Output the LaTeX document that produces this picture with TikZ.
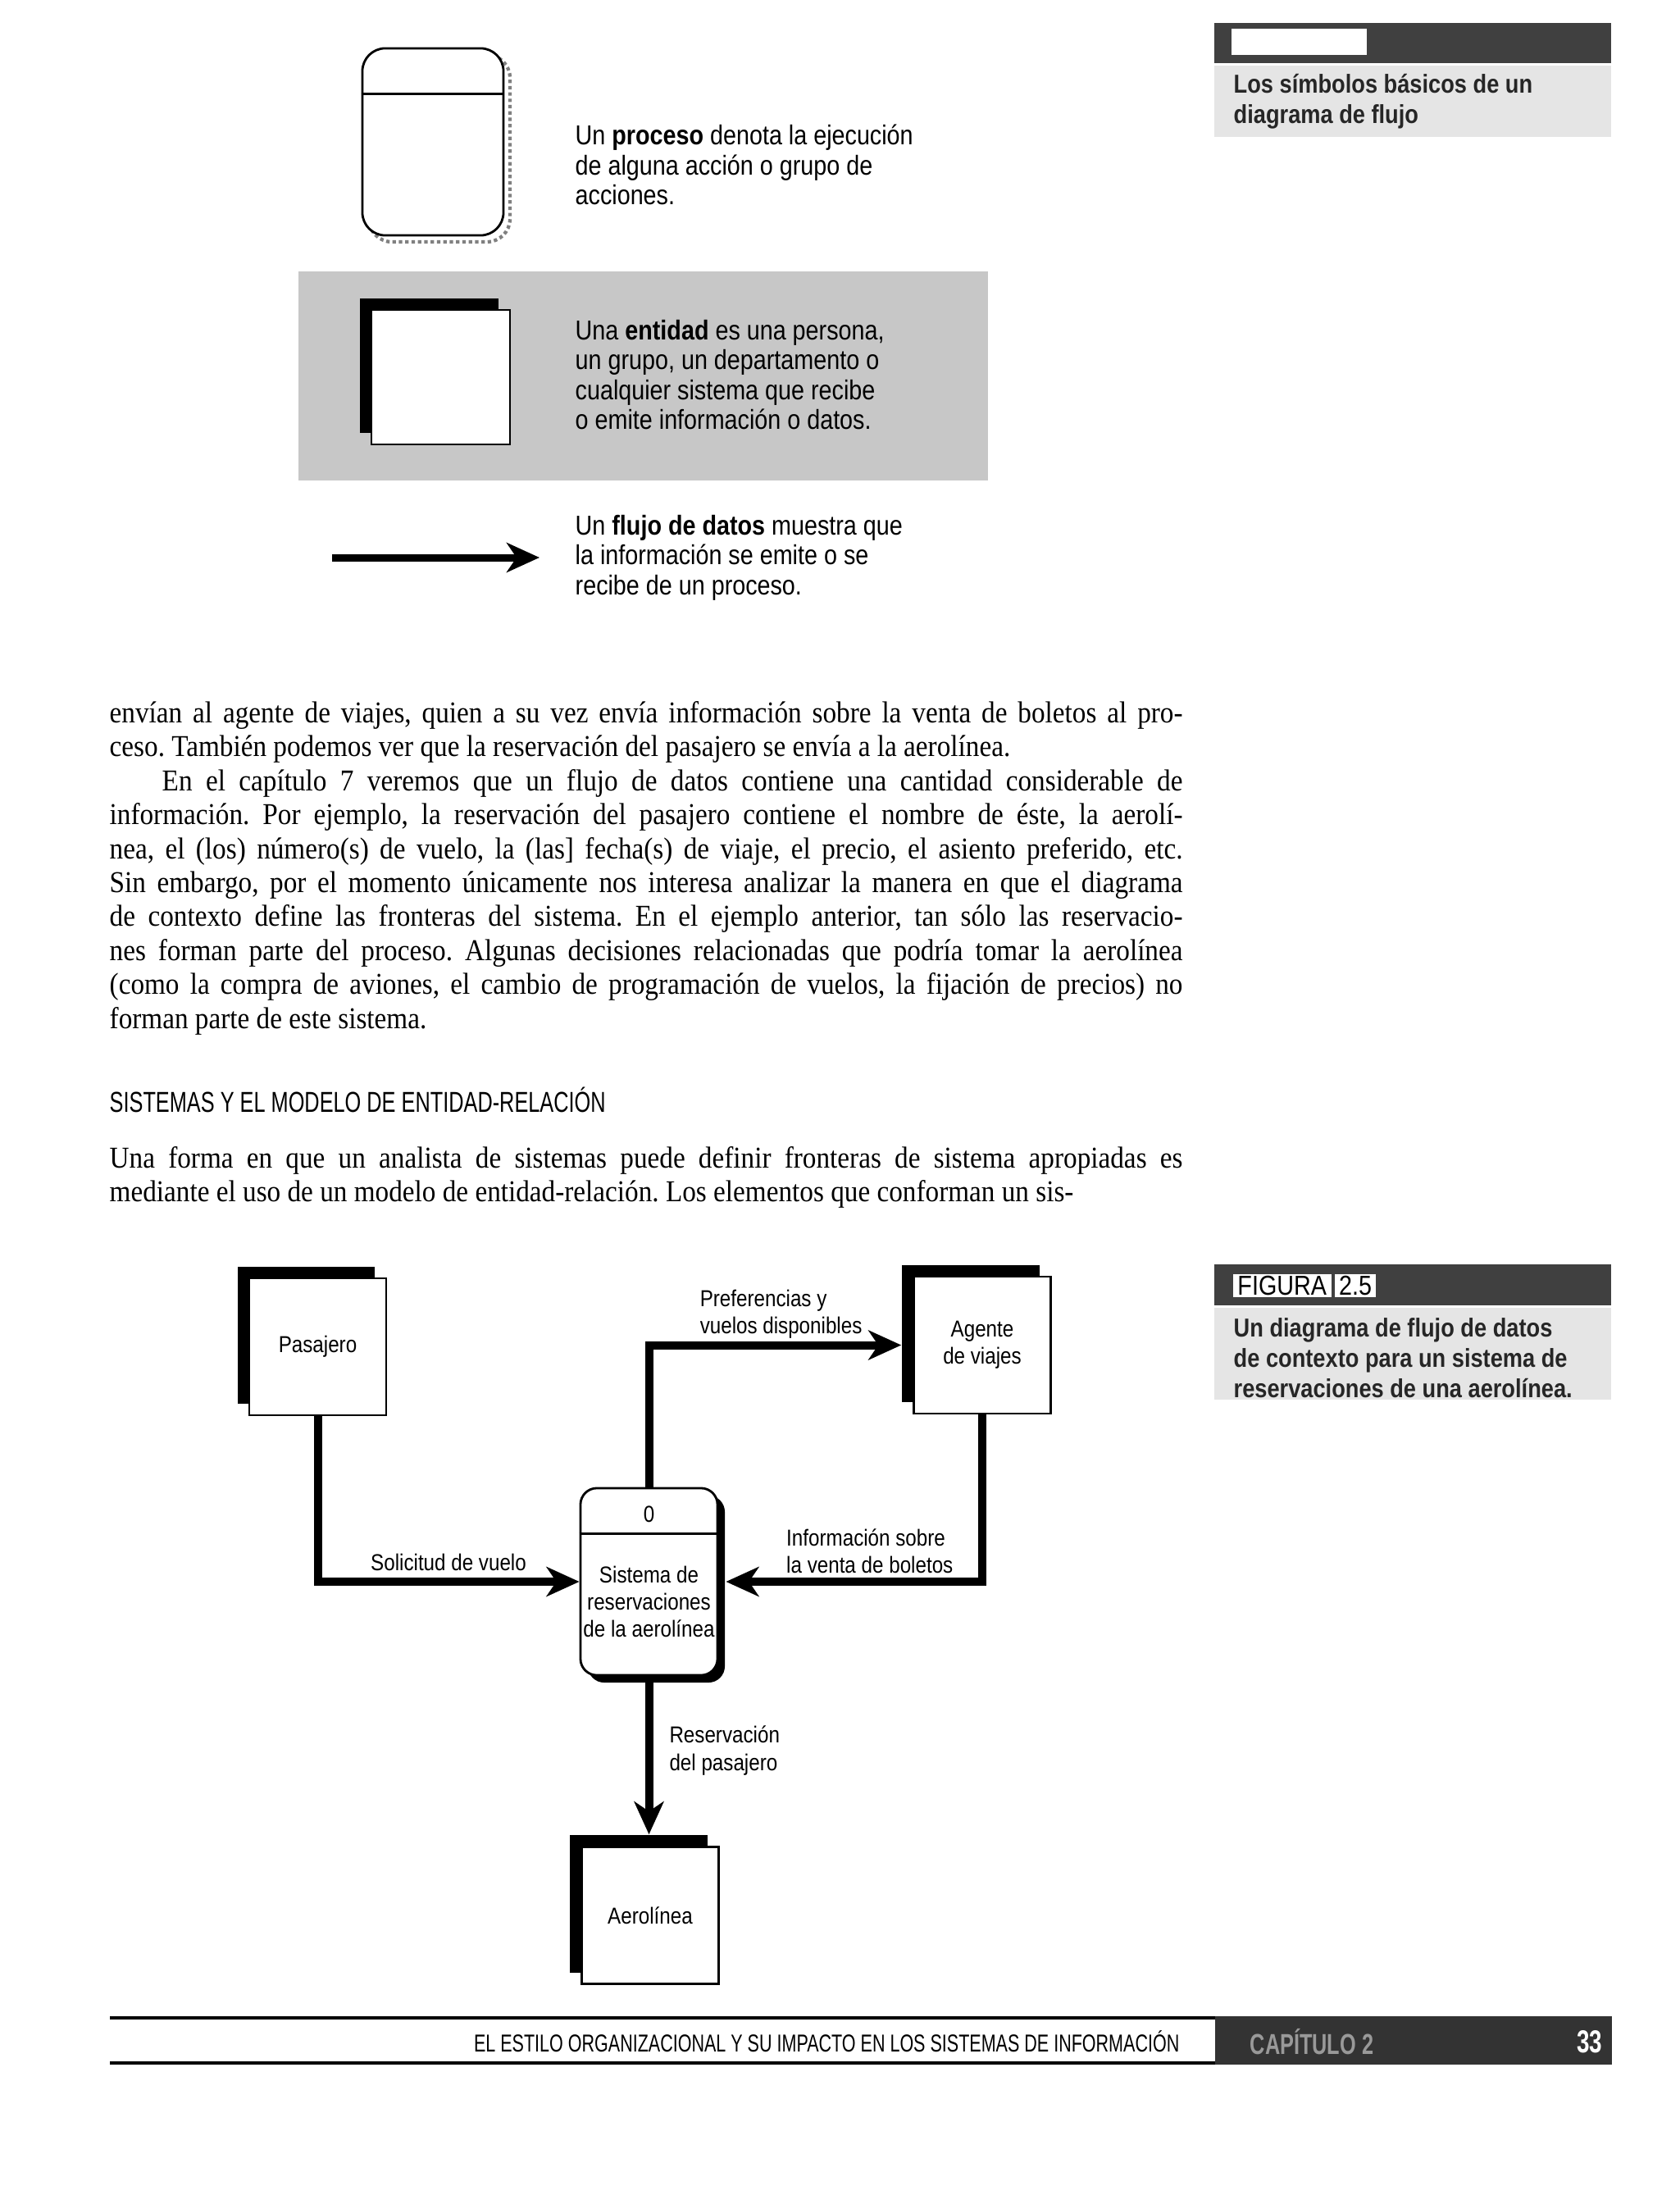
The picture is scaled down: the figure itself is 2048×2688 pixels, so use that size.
\documentclass[tikz,border=0pt]{standalone}
\usepackage{fontspec}
\setmainfont{Liberation Serif}
\newfontfamily\serifnarrow{Liberation Serif}[FakeStretch=0.9]
\newfontfamily\narrowfont{Liberation Sans}[FakeStretch=0.86]
\newfontfamily\condfont{Liberation Sans}[FakeStretch=0.72]
\usetikzlibrary{arrows.meta,shadows,positioning}

\newcommand{\diagfont}{\narrowfont\fontsize{8}{9.4}\selectfont}
\newcommand{\legendfont}{\narrowfont\fontsize{9.5}{10.4}\selectfont}
\newcommand{\sidefont}{\narrowfont\bfseries\fontsize{9}{10.5}\selectfont}
\newcommand{\headfont}{\condfont\fontsize{10}{12}\selectfont}
\newcommand{\footfont}{\condfont\fontsize{8.5}{10}\selectfont}
\newcommand{\bodyfont}{\serifnarrow\fontsize{10.5}{11.8}\selectfont\frenchspacing\hyphenpenalty=10000\exhyphenpenalty=10000}

\tikzset{
  flow/.style={line width=1mm, -{Stealth[length=4mm, width=3.6mm, inset=1.2mm]}},
  entity/.style={draw, fill=white, line width=0.7pt, minimum width=1.67cm,
    minimum height=1.67cm, inner sep=0pt, font=\diagfont, align=center,
    general shadow={fill=black, shadow xshift=-1.4mm, shadow yshift=1.4mm}},
  process/.style={draw, fill=white, line width=0.8pt, rounded corners=2mm,
    minimum width=1.67cm, minimum height=2.28cm, inner sep=0pt},
  processshadow/.style={general shadow={fill=black, shadow xshift=0.9mm, shadow yshift=-0.9mm}},
  flowlabel/.style={font=\diagfont, align=left, inner sep=0pt},
  legendtext/.style={font=\legendfont, align=left, anchor=west, inner sep=0pt},
  sidetext/.style={font=\sidefont, text=black!85, align=left, anchor=west, inner sep=0pt},
  figtag/.style={fill=white, font=\narrowfont\fontsize{9.5}{11}\selectfont, inner sep=0pt, minimum height=0.28cm},
  body/.style={font=\bodyfont, text width=13.08cm, align=justify, anchor=base west, inner sep=0pt}
}

\begin{document}
\begin{tikzpicture}[x=0.01cm, y=-0.01cm]
  \fill[white] (0,0) rectangle (2048,2688);
  \useasboundingbox (0,0) rectangle (2048,2688);

  % legend: process symbol
  \draw[black!50, densely dotted, line width=1.2pt, rounded corners=2.8mm] (450,67) rectangle (622,295);
  \node[process, rounded corners=2.8mm, minimum width=1.72cm] (legproc) at (528,173) {};
  \draw[line width=0.8pt] ([yshift=-5.7mm]legproc.north west) -- ([yshift=-5.7mm]legproc.north east);
  \node[legendtext] (legproctext) at (701,201)
    {Un \textbf{proceso} denota la ejecución\\de alguna acción o grupo de\\acciones.};

  % legend: entity symbol on the grey band
  \fill[black!22] (364,331) rectangle (1205,586);
  \node[entity, minimum width=1.69cm, minimum height=1.64cm] (legent) at (537.5,460) {};
  \node[legendtext] (legenttext) at (701,457)
    {Una \textbf{entidad} es una persona,\\un grupo, un departamento o\\cualquier sistema que recibe\\o emite información o datos.};

  % legend: data flow
  \coordinate (legflowstart) at (405,680);
  \coordinate (legflowend) at (658,680);
  \draw[flow, line width=0.9mm] (legflowstart) -- (legflowend);
  \node[legendtext] (legflowtext) at (701,680)
    {Un \textbf{flujo de datos} muestra que\\la información se emite o se\\recibe de un proceso.};

  % margin notes
  \fill[black!75] (1481,28) rectangle (1965,77);
  \fill[white] (1502,35) rectangle (1667,67);
  \fill[black!10] (1481,80) rectangle (1965,167);
  \node[sidetext] (symcaption) at (1504,124) {Los símbolos básicos de un\\diagrama de flujo};

  \fill[black!75] (1481,1542) rectangle (1965,1592);
  \node[figtag, anchor=west, minimum width=1.2cm] (figword) at (1503,1568) {FIGURA};
  \node[figtag, minimum width=0.5cm, right=0.03cm of figword] (fignum) {2.5};
  \fill[black!10] (1481,1595) rectangle (1965,1707);
  \node[sidetext] (figcaption) at (1504,1656)
    {Un diagrama de flujo de datos\\de contexto para un sistema de\\reservaciones de una aerolínea.};

  % running text
  \node[body] (para1) at (133,881)
    {envían al agente de viajes, quien a su vez envía información sobre la venta de boletos al pro-\linebreak
     ceso. También podemos ver que la reservación del pasajero se envía a la aerolínea.};
  \node[body] (para2) at (133,964)
    {\hspace*{0.64cm}En el capítulo 7 veremos que un flujo de datos contiene una cantidad considerable de\linebreak
     información. Por ejemplo, la reservación del pasajero contiene el nombre de éste, la aerolí-\linebreak
     nea, el (los) número(s) de vuelo, la (las] fecha(s) de viaje, el precio, el asiento preferido, etc.\linebreak
     Sin embargo, por el momento únicamente nos interesa analizar la manera en que el diagrama\linebreak
     de contexto define las fronteras del sistema. En el ejemplo anterior, tan sólo las reservacio-\linebreak
     nes forman parte del proceso. Algunas decisiones relacionadas que podría tomar la aerolínea\linebreak
     (como la compra de aviones, el cambio de programación de vuelos, la fijación de precios) no\linebreak
     forman parte de este sistema.};
  \node[anchor=base west, inner sep=0pt, font=\headfont] (heading) at (133,1356)
    {SISTEMAS Y EL MODELO DE ENTIDAD-RELACIÓN};
  \node[body] (para3) at (133,1424)
    {\parfillskip=0pt Una forma en que un analista de sistemas puede definir fronteras de sistema apropiadas es\linebreak
     mediante el uso de un modelo de entidad-relación. Los elementos que conforman un sis-};

  % context diagram
  \node[entity] (pasajero) at (387.5,1642.5) {Pasajero};
  \node[entity] (agente) at (1198,1640.5) {Agente\\de viajes};
  \node[process, processshadow] (sistema) at (791.5,1929) {};
  \draw[line width=0.8pt] ([yshift=-5.7mm]sistema.north west) -- ([yshift=-5.7mm]sistema.north east);
  \node[font=\diagfont] (sistemanum) at (791.5,1847) {0};
  \node[font=\diagfont, align=center] (sistemaname) at (791.5,1953)
    {Sistema de\\reservaciones\\de la aerolínea};
  \node[entity] (aerolinea) at (793,2336) {Aerolínea};

  \draw[flow] (pasajero.south) |- (sistema.west)
    node[flowlabel, pos=0.75, above=0.8mm] (solicitud) {Solicitud de vuelo};
  \draw[flow] (sistema.north) |- ([xshift=-1.4mm]agente.west)
    node[flowlabel, pos=0.593, anchor=south west, yshift=0.3mm] (preferencias) {Preferencias y\\vuelos disponibles};
  \draw[flow] (agente.south) |- ([xshift=0.9mm]sistema.east)
    node[flowlabel, pos=0.89, anchor=south west, yshift=0.5mm] (venta) {Información sobre\\la venta de boletos};
  \draw[flow] (sistema.south) -- ([yshift=1.4mm]sistema.south |- aerolinea.north)
    node[flowlabel, pos=0.47, right=2mm] (reservacion) {Reservación\\del pasajero};

  % footer
  \draw[line width=0.35mm] (134,2461) -- (1482,2461);
  \draw[line width=0.4mm] (134,2516) -- (1482,2516);
  \fill[black!80] (1482,2459) rectangle (1966,2518);
  \node[anchor=east, inner sep=0pt, font=\footfont] (runninghead) at (1439,2490)
    {EL ESTILO ORGANIZACIONAL Y SU IMPACTO EN LOS SISTEMAS DE INFORMACIÓN};
  \node[anchor=west, inner sep=0pt, text=black!40, font=\condfont\bfseries\fontsize{10}{12}\selectfont] (chapter) at (1524,2490) {CAPÍTULO 2};
  \node[anchor=east, inner sep=0pt, text=white, font=\condfont\bfseries\fontsize{11}{12}\selectfont] (pagenum) at (1955,2490) {33};
\end{tikzpicture}
\end{document}
